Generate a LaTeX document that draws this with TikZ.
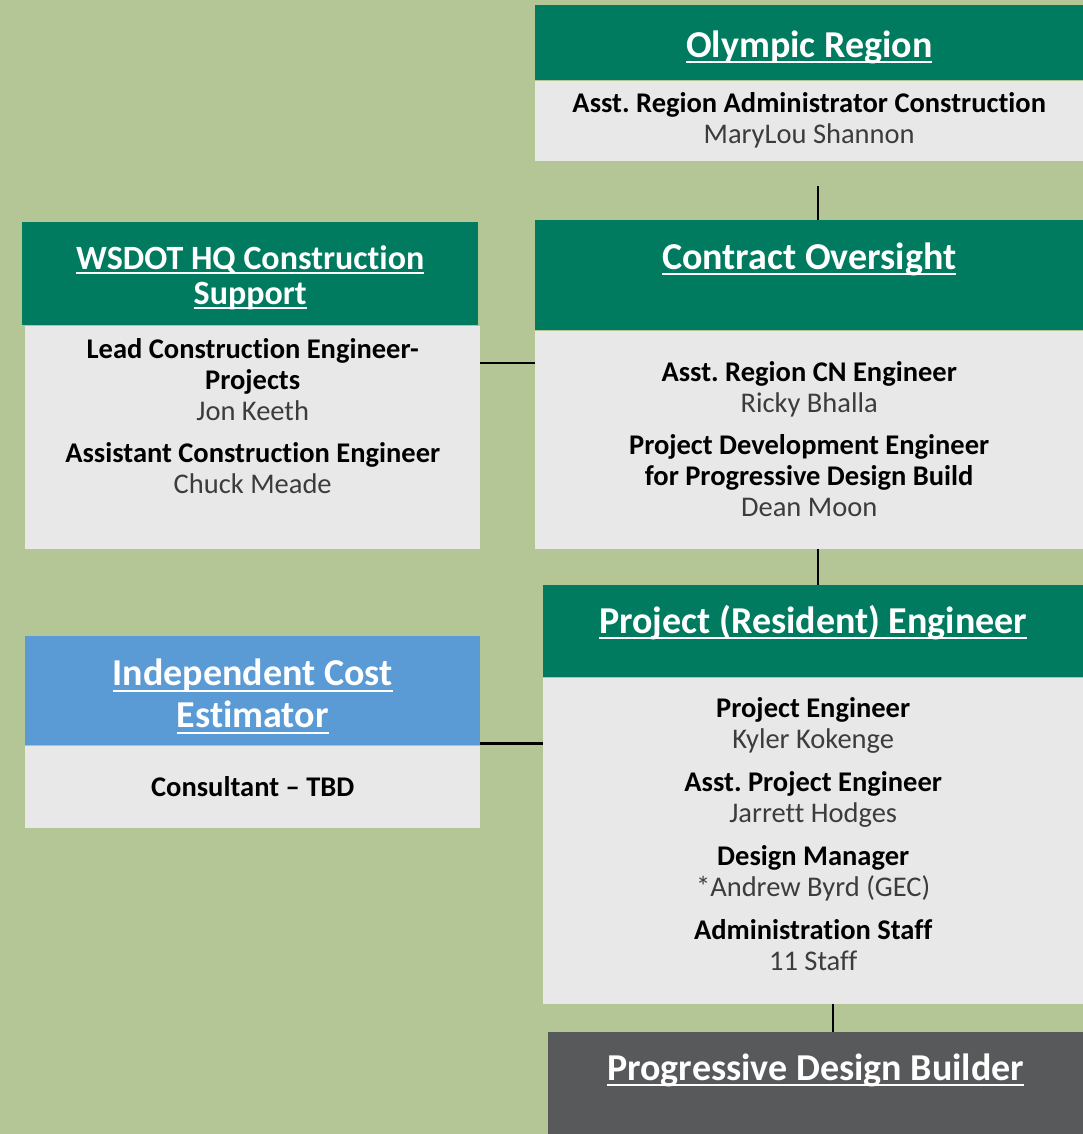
\documentclass[tikz,border=0pt]{standalone}
\usepackage{fontspec}
\setmainfont{Carlito}[Ligatures=NoCommon]
\usetikzlibrary{positioning}

\definecolor{sage}{RGB}{181,198,150}
\definecolor{wsgreen}{RGB}{0,123,95}
\definecolor{cellgray}{RGB}{232,232,232}
\definecolor{iceblue}{RGB}{91,155,213}
\definecolor{pdbgray}{RGB}{88,89,91}
\definecolor{namegray}{RGB}{60,60,60}

\newcommand\ulhead[1]{\leavevmode\setbox0\hbox{#1}\rlap{\rule[-0.16em]{\wd0}{0.06em}}\box0}
\newcommand\who[1]{\textcolor{namegray}{#1}}
\frenchspacing

\begin{document}
\begin{tikzpicture}[x=1pt,y=-1pt,
      head/.style={rectangle,fill=wsgreen,text=white,inner sep=0pt,align=center,
                   font=\fontsize{38}{42}\selectfont\bfseries,anchor=north west},
      cell/.style={rectangle,fill=cellgray,inner sep=0pt,align=center,
                   font=\fontsize{28.5}{31}\selectfont},
      link/.style={draw=black,line width=2.5pt}]
      \useasboundingbox (0,0) rectangle (1083,1134);
      \fill[sage] (0,0) rectangle (1083,1134);

      % Blocks
      \node[head,minimum width=548pt,text height=52pt,text depth=23pt] (olyHead) at (535,5) {\ulhead{Olympic Region}};
      \node[cell,below=0pt of olyHead,minimum width=548pt,minimum height=80pt] (olyBody)
           {\textbf{Asst. Region Administrator Construction}\\ \who{MaryLou Shannon}};

      \node[head,font=\fontsize{34}{35}\selectfont\bfseries] (hqHead) at (22,222)
           {\parbox[c][103pt][t]{456pt}{\centering\vspace*{23pt}%
             \ulhead{WSDOT HQ Construction}\\ \ulhead{Support}}};
      \node[cell,below=0pt of hqHead,xshift=2.5pt] (hqBody)
           {\parbox[c][223pt][t]{455pt}{\centering\vspace*{13pt}%
             \textbf{Lead Construction Engineer-}\\ \textbf{Projects}\\ \who{Jon Keeth}\\[11pt]
             \textbf{Assistant Construction Engineer}\\ \who{Chuck Meade}}};

      \node[head,minimum width=548pt,text height=49pt,text depth=61pt] (ctrHead) at (535,220) {\ulhead{Contract Oversight}};
      \node[cell,below=0pt of ctrHead,minimum width=548pt,minimum height=218pt] (ctrBody)
           {\textbf{Asst. Region CN Engineer}\\ \who{Ricky Bhalla}\\[11pt]
            \textbf{Project Development Engineer}\\ \textbf{for Progressive Design Build}\\ \who{Dean Moon}};

      \node[head,minimum width=540pt,text height=48pt,text depth=44pt] (prjHead) at (543,585) {\ulhead{Project (Resident) Engineer}};
      \node[cell,below=0pt of prjHead] (prjBody)
           {\parbox[c][326pt][t]{540pt}{\centering\vspace*{20pt}%
             \textbf{Project Engineer}\\ \who{Kyler Kokenge}\\[12pt]
             \textbf{Asst. Project Engineer}\\ \who{Jarrett Hodges}\\[12pt]
             \textbf{Design Manager}\\ \who{*Andrew Byrd (GEC)}\\[12pt]
             \textbf{Administration Staff}\\ \who{11 Staff}}};

      \node[head,fill=iceblue] (iceHead) at (25,636)
           {\parbox[c][109pt][t]{455pt}{\centering\vspace*{23pt}%
             \ulhead{Independent Cost}\\ \ulhead{Estimator}}};
      \node[cell,below=0pt of iceHead,minimum width=455pt,minimum height=82pt] (iceBody) {\textbf{Consultant – TBD}};

      \node[head,fill=pdbgray,minimum width=535pt,text height=48pt,text depth=54pt] (pdbBox) at (548,1032)
           {\ulhead{Progressive Design Builder}};

      % Connectors
      \draw[link,shorten <=25pt] ([xshift=9pt]olyBody.south) -- ([xshift=9pt]ctrHead.north);
      \draw[link] ([yshift=74pt]hqBody.east) -- ([yshift=74pt]hqBody.east -| ctrBody.west);
      \draw[link] ([xshift=9pt]ctrBody.south) -- ([xshift=9pt]ctrBody.south |- prjHead.north);
      \draw[link] ([yshift=2pt]iceHead.south east) -- ([yshift=2pt]iceHead.south east -| prjBody.west);
      \draw[link] ([xshift=20pt]prjBody.south) -- ([xshift=20pt]prjBody.south |- pdbBox.north);

    \end{tikzpicture}
\end{document}
